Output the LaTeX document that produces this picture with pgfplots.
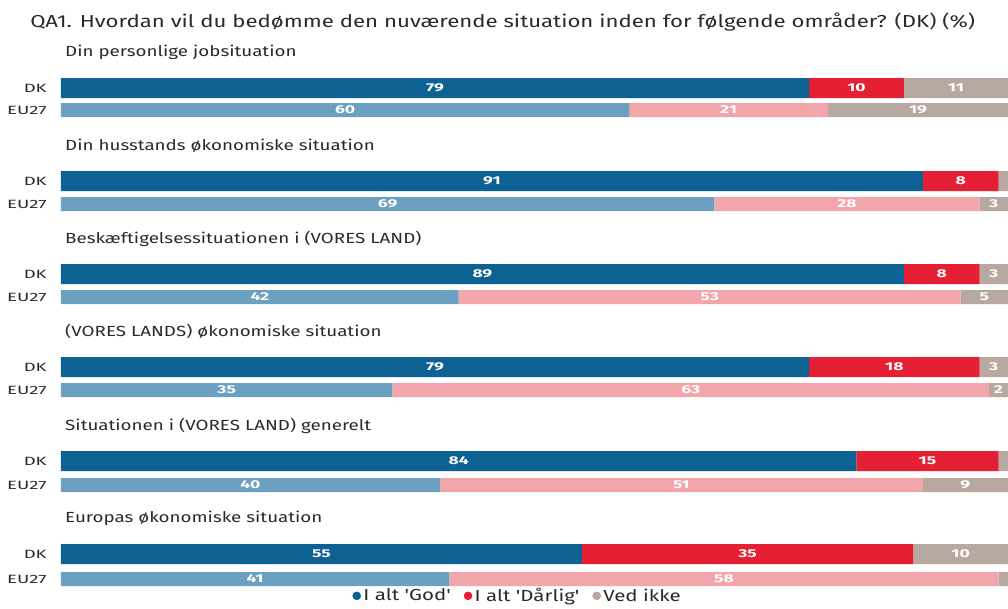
\documentclass[border=0pt]{standalone}
\usepackage{pgfplots}
\usepackage{pgfplotstable}
\pgfplotsset{compat=1.18}
\usepackage{fontspec}
\setmainfont{Fira Sans}[Ligatures=TeXOff, FakeStretch=1.28]
\newfontfamily\widefont{Fira Sans}[Ligatures=TeXOff, FakeStretch=1.55]

\definecolor{dkgod}{HTML}{0E6193}
\definecolor{eugod}{HTML}{6CA0C1}
\definecolor{dkbad}{HTML}{E52034}
\definecolor{eubad}{HTML}{F2A5AB}
\definecolor{vedc}{HTML}{B7A9A1}
\definecolor{txt}{HTML}{2A2A2A}

\pgfplotstableread{
pos god bad ved
88 79 10 11
181 91 8 1
274 89 8 3
367 79 18 3
461 84 15 1
554 55 35 10
}\dk
\pgfplotstableread{
pos god bad ved
110 60 21 19
204 69 28 3
297 42 53 5
390 35 63 2
485 40 51 9
579 41 58 1
}\eu
\pgfplotstablecreatecol[create col/expr={\thisrow{god}/2}]{ma}{\dk}
\pgfplotstablecreatecol[create col/expr={\thisrow{god}+\thisrow{bad}/2}]{mb}{\dk}
\pgfplotstablecreatecol[create col/expr={\thisrow{god}+\thisrow{bad}+\thisrow{ved}/2}]{mc}{\dk}
\pgfplotstablecreatecol[create col/expr={\thisrow{god}/2}]{ma}{\eu}
\pgfplotstablecreatecol[create col/expr={\thisrow{god}+\thisrow{bad}/2}]{mb}{\eu}
\pgfplotstablecreatecol[create col/expr={\thisrow{god}+\thisrow{bad}+\thisrow{ved}/2}]{mc}{\eu}

\pgfplotsset{base/.style={width=756pt,height=456pt,scale only axis,
  xmin=-6.44,xmax=100,ymin=0,ymax=608,y dir=reverse,hide axis,clip=false,
  at={(0,0)},anchor=south west}}
\pgfplotsset{lbl/.style={draw=none,mark=none,forget plot,nodes near coords,point meta=explicit,
  nodes near coords={\pgfmathprintnumber[fixed,precision=0,assume math mode=true]{\pgfplotspointmeta}},
  nodes near coords style={font=\widefont\bfseries\fontsize{8.5}{10}\selectfont,text=white,anchor=center}}}
\tikzset{sub/.style={anchor=west,inner sep=0pt,text=txt,font=\fontsize{11}{13}\selectfont},
  cat/.style={anchor=east,inner sep=0pt,text=txt,font=\widefont\fontsize{9}{10}\selectfont}}

\begin{document}
\begin{tikzpicture}
\begin{axis}[base,xbar stacked,bar width=20]
\addplot[fill=dkgod,draw=none] table[x=god,y=pos]{\dk};
\addplot[fill=dkbad,draw=none] table[x=bad,y=pos]{\dk};
\addplot[fill=vedc,draw=none] table[x=ved,y=pos]{\dk};
\end{axis}
\begin{axis}[base,xbar stacked,bar width=14]
\addplot[fill=eugod,draw=none] table[x=god,y=pos]{\eu};
\addplot[fill=eubad,draw=none] table[x=bad,y=pos]{\eu};
\addplot[fill=vedc,draw=none] table[x=ved,y=pos]{\eu};
\end{axis}
\begin{axis}[base,
  legend columns=3,
  legend style={draw=none,fill=none,at={(0.514,0.02)},anchor=center,
    font=\fontsize{12}{14}\selectfont,text=txt,inner sep=0pt,
    /tikz/every even column/.append style={column sep=8pt}},
  legend image code/.code={\draw[#1] plot coordinates {(0.12cm,0cm)};}]
\addplot[lbl] table[x=ma,y=pos,meta=god]{\dk};
\addplot[lbl] table[x=mb,y=pos,meta=bad]{\dk};
\addplot[lbl,restrict expr to domain={\thisrow{ved}}{1.5:200}] table[x=mc,y=pos,meta=ved]{\dk};
\addplot[lbl] table[x=ma,y=pos,meta=god]{\eu};
\addplot[lbl] table[x=mb,y=pos,meta=bad]{\eu};
\addplot[lbl,restrict expr to domain={\thisrow{ved}}{1.5:200}] table[x=mc,y=pos,meta=ved]{\eu};
\addlegendimage{only marks,mark=*,mark size=3pt,mark options={draw=dkgod,fill=dkgod}}
\addlegendentry{I alt 'God'}
\addlegendimage{only marks,mark=*,mark size=3pt,mark options={draw=dkbad,fill=dkbad}}
\addlegendentry{I alt 'Dårlig'}
\addlegendimage{only marks,mark=*,mark size=3pt,mark options={draw=vedc,fill=vedc}}
\addlegendentry{Ved ikke}

\node[anchor=west,inner sep=0pt,text=txt,font=\fontsize{13}{15}\selectfont] at (axis cs:-3.27,22) {QA1. Hvordan vil du bedømme den nuværende situation inden for følgende områder? (DK) (\%)};
\node[sub] at (axis cs:0.42,52.5) {Din personlige jobsituation};
\node[sub] at (axis cs:0.42,145.5) {Din husstands økonomiske situation};
\node[sub] at (axis cs:0.42,238.5) {Beskæftigelsessituationen i (VORES LAND)};
\node[sub] at (axis cs:0.42,331.5) {(VORES LANDS) økonomiske situation};
\node[sub] at (axis cs:0.42,425.5) {Situationen i (VORES LAND) generelt};
\node[sub] at (axis cs:0.42,518.5) {Europas økonomiske situation};
\node[cat] at (axis cs:-1.48,88) {DK};
\node[cat] at (axis cs:-1.48,181) {DK};
\node[cat] at (axis cs:-1.48,274) {DK};
\node[cat] at (axis cs:-1.48,367) {DK};
\node[cat] at (axis cs:-1.48,461) {DK};
\node[cat] at (axis cs:-1.48,554) {DK};
\node[cat] at (axis cs:-1.48,110) {EU27};
\node[cat] at (axis cs:-1.48,204) {EU27};
\node[cat] at (axis cs:-1.48,297) {EU27};
\node[cat] at (axis cs:-1.48,390) {EU27};
\node[cat] at (axis cs:-1.48,485) {EU27};
\node[cat] at (axis cs:-1.48,579) {EU27};
\end{axis}
\pgfresetboundingbox
\path (0,0) rectangle (756pt,456pt);
\end{tikzpicture}
\end{document}
